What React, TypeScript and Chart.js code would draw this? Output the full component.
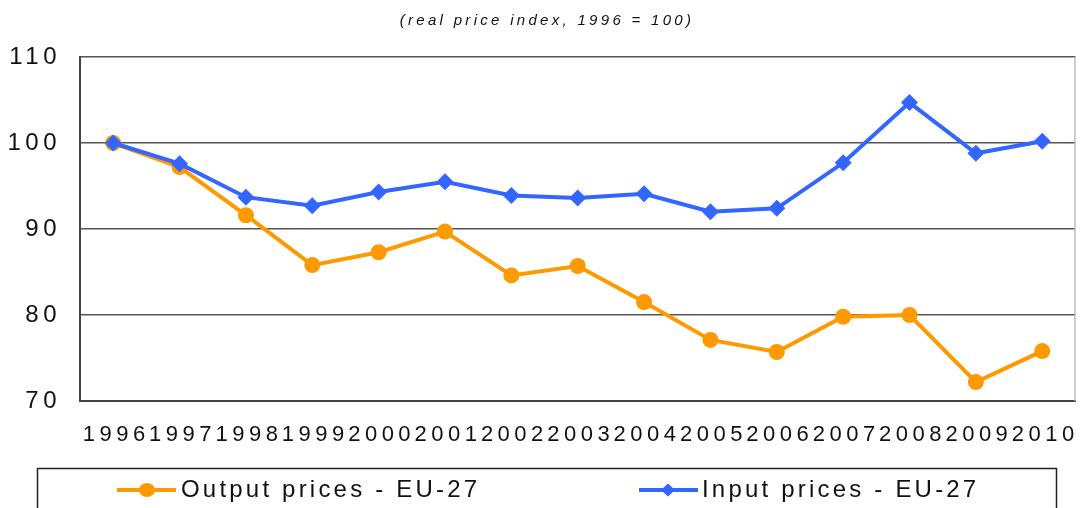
import React, { useEffect, useRef } from 'react';
import { Chart, registerables } from 'chart.js';

Chart.register(...registerables);

const years = ['1996', '1997', '1998', '1999', '2000', '2001', '2002', '2003', '2004', '2005', '2006', '2007', '2008', '2009', '2010'];
const outputPrices = [100, 97.2, 91.6, 85.8, 87.3, 89.7, 84.6, 85.7, 81.5, 77.1, 75.7, 79.8, 80.0, 72.2, 75.8];
const inputPrices = [100, 97.6, 93.7, 92.7, 94.3, 95.5, 93.9, 93.6, 94.1, 92.0, 92.4, 97.7, 104.7, 98.8, 100.2];
const yMin = 70;
const yMax = 110;
const yStep = 10;
const titleText = '(real price index, 1996 = 100)';
const outputLabel = 'Output prices - EU-27';
const inputLabel = 'Input prices - EU-27';

const ORANGE = '#FF9900';
const BLUE = '#3366FF';
const FAMILY = "'Liberation Sans', Arial, sans-serif";

const decorPlugin = {
  id: 'decor',
  beforeDraw(chart: any) {
    const ctx = chart.ctx;
    ctx.fillStyle = '#ffffff';
    ctx.fillRect(0, 0, chart.width, chart.height);
    (ctx as any).letterSpacing = '4.5px';
  },
  beforeDatasetsDraw(chart: any) {
    const ctx = chart.ctx;
    (ctx as any).letterSpacing = '0px';
    const a = chart.chartArea;
    ctx.save();
    ctx.strokeStyle = '#bbbbbb';
    ctx.lineWidth = 1.5;
    ctx.beginPath();
    ctx.moveTo(a.right - 0.5, a.top);
    ctx.lineTo(a.right - 0.5, a.bottom);
    ctx.stroke();
    ctx.restore();
  },
  afterDraw(chart: any) {
    const ctx = chart.ctx;
    ctx.save();
    // title
    (ctx as any).letterSpacing = '3.3px';
    ctx.font = `italic 15px ${FAMILY}`;
    ctx.fillStyle = '#111111';
    ctx.textAlign = 'center';
    ctx.textBaseline = 'middle';
    ctx.fillText(titleText, 547, 21);

    // legend box
    (ctx as any).letterSpacing = '0px';
    ctx.strokeStyle = '#222222';
    ctx.lineWidth = 1.5;
    ctx.strokeRect(37.5, 468.5, 1019, 60);

    const ds = chart.data.datasets;
    const items = [
      { x0: 117, x1: 176, cx: 147, tx: 181, d: ds[0], shape: 'circle' },
      { x0: 639, x1: 698, cx: 668, tx: 702, d: ds[1], shape: 'diamond' },
    ];
    const ly = 490;
    for (const it of items) {
      ctx.strokeStyle = it.d.borderColor;
      ctx.lineWidth = 4;
      ctx.beginPath();
      ctx.moveTo(it.x0, ly);
      ctx.lineTo(it.x1, ly);
      ctx.stroke();
      ctx.fillStyle = it.d.backgroundColor;
      ctx.beginPath();
      if (it.shape === 'circle') {
        ctx.ellipse(it.cx, ly, 8, 7, 0, 0, Math.PI * 2);
      } else {
        ctx.moveTo(it.cx - 7, ly);
        ctx.lineTo(it.cx, ly - 6.5);
        ctx.lineTo(it.cx + 7, ly);
        ctx.lineTo(it.cx, ly + 6.5);
        ctx.closePath();
      }
      ctx.fill();
      (ctx as any).letterSpacing = '3.2px';
      ctx.font = `24px ${FAMILY}`;
      ctx.fillStyle = '#111111';
      ctx.textAlign = 'left';
      ctx.textBaseline = 'middle';
      ctx.fillText(it.d.label, it.tx, ly);
      (ctx as any).letterSpacing = '0px';
    }
    ctx.restore();
  },
};

export default function App() {
  const ref = useRef<HTMLCanvasElement>(null);
  useEffect(() => {
    if (!ref.current) return;
    const chart = new Chart(ref.current, {
      type: 'line',
      data: {
        labels: years,
        datasets: [
          {
            label: outputLabel,
            data: outputPrices,
            borderColor: ORANGE,
            backgroundColor: ORANGE,
            borderWidth: 4,
            pointStyle: 'circle',
            pointRadius: 8,
            pointBorderWidth: 0,
            pointBackgroundColor: ORANGE,
            tension: 0,
            order: 1,
          },
          {
            label: inputLabel,
            data: inputPrices,
            borderColor: BLUE,
            backgroundColor: BLUE,
            borderWidth: 4,
            pointStyle: 'rectRot',
            pointRadius: 8.5,
            pointBorderWidth: 0,
            pointBackgroundColor: BLUE,
            tension: 0,
            order: 0,
          },
        ],
      },
      options: {
        responsive: false,
        animation: false,
        events: [],
        layout: { padding: { top: 57, left: 0, right: 1, bottom: 47 } },
        plugins: {
          legend: { display: false },
          title: { display: false },
          tooltip: { enabled: false },
        },
        scales: {
          x: {
            offset: true,
            grid: { display: false, drawTicks: false },
            border: { display: true, color: '#444444', width: 2 },
            ticks: {
              autoSkip: false,
              maxRotation: 0,
              minRotation: 0,
              padding: 21,
              labelOffset: 3,
              color: '#111111',
              font: { family: FAMILY, size: 22 },
            },
            afterFit: (s: any) => {
              s.height = 60;
            },
          },
          y: {
            min: yMin,
            max: yMax,
            ticks: {
              stepSize: yStep,
              padding: 19,
              color: '#111111',
              font: { family: FAMILY, size: 24 },
            },
            grid: { color: '#555555', lineWidth: 1.5, drawTicks: false },
            border: { display: true, color: '#444444', width: 2 },
            afterFit: (s: any) => {
              s.width = 80;
            },
          },
        },
      },
      plugins: [decorPlugin],
    });
    return () => chart.destroy();
  }, []);
  return (
    <div style={{ position: 'fixed', left: 0, top: 0, width: 1088, height: 508, background: '#fff' }}>
      <canvas ref={ref} width={1088} height={508} style={{ display: 'block' }} />
    </div>
  );
}
